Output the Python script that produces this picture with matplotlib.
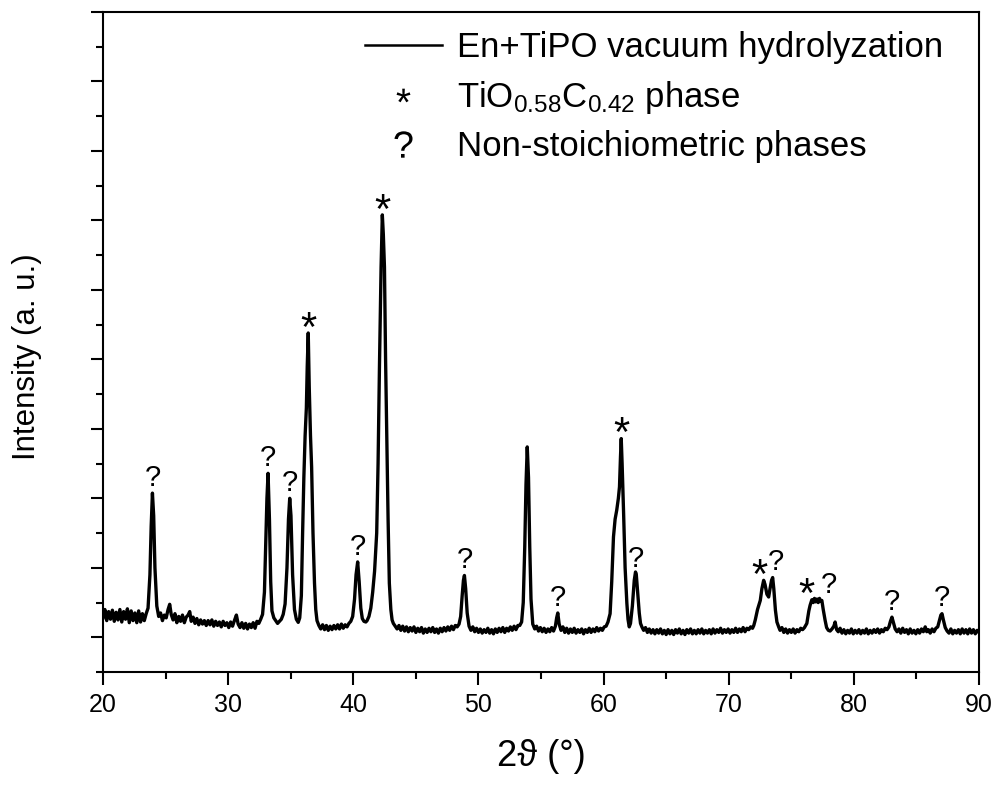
import matplotlib
matplotlib.use("Agg")
import matplotlib.pyplot as plt
from matplotlib.lines import Line2D
from matplotlib.ticker import MultipleLocator
import numpy as np

plt.rcParams['font.family'] = ['Liberation Sans', 'DejaVu Sans']
plt.rcParams['mathtext.fontset'] = 'custom'
plt.rcParams['mathtext.rm'] = 'Liberation Sans'
plt.rcParams['mathtext.it'] = 'Liberation Sans'

# XRD scan, 2theta in degrees, intensity in arbitrary counts (10 values per row)
two_theta = [
    20.0, 20.15, 20.3, 20.45, 20.6, 20.75, 20.9, 21.05, 21.2, 21.35,
    21.5, 21.65, 21.8, 21.95, 22.1, 22.25, 22.4, 22.55, 22.7, 22.85,
    23.0, 23.15, 23.3, 23.45, 23.6, 23.75, 23.85, 23.95, 24.05, 24.15,
    24.3, 24.45, 24.6, 24.75, 24.9, 25.05, 25.2, 25.33, 25.45, 25.6,
    25.75, 25.9, 26.05, 26.2, 26.35, 26.5, 26.65, 26.8, 26.93, 27.05,
    27.2, 27.35, 27.5, 27.65, 27.8, 27.95, 28.1, 28.25, 28.4, 28.55,
    28.7, 28.85, 29.0, 29.15, 29.3, 29.45, 29.6, 29.75, 29.9, 30.05,
    30.2, 30.35, 30.5, 30.66, 30.8, 30.95, 31.1, 31.25, 31.4, 31.55,
    31.7, 31.85, 32.0, 32.15, 32.3, 32.45, 32.6, 32.75, 32.9, 33.0,
    33.1, 33.19, 33.3, 33.4, 33.5, 33.65, 33.8, 33.95, 34.1, 34.25,
    34.4, 34.55, 34.7, 34.82, 34.92, 35.02, 35.15, 35.3, 35.45, 35.6,
    35.72, 35.85, 35.95, 36.05, 36.15, 36.25, 36.32, 36.4, 36.48, 36.58,
    36.67, 36.78, 36.9, 37.0, 37.1, 37.25, 37.4, 37.55, 37.7, 37.85,
    38.0, 38.15, 38.3, 38.45, 38.6, 38.75, 38.9, 39.05, 39.2, 39.35,
    39.5, 39.65, 39.8, 39.95, 40.1, 40.22, 40.35, 40.47, 40.6, 40.72,
    40.85, 41.0, 41.1, 41.25, 41.4, 41.55, 41.7, 41.87, 41.98, 42.09,
    42.22, 42.32, 42.4, 42.49, 42.58, 42.67, 42.78, 42.88, 43.0, 43.1,
    43.2, 43.35, 43.5, 43.65, 43.8, 43.95, 44.1, 44.25, 44.4, 44.55,
    44.7, 44.85, 45.0, 45.15, 45.3, 45.45, 45.6, 45.75, 45.9, 46.05,
    46.2, 46.35, 46.5, 46.65, 46.8, 46.95, 47.1, 47.25, 47.4, 47.55,
    47.7, 47.85, 48.0, 48.15, 48.3, 48.45, 48.58, 48.7, 48.8, 48.88,
    48.98, 49.1, 49.25, 49.4, 49.55, 49.7, 49.85, 50.0, 50.15, 50.3,
    50.45, 50.6, 50.75, 50.9, 51.05, 51.2, 51.35, 51.5, 51.65, 51.8,
    51.95, 52.1, 52.25, 52.4, 52.55, 52.7, 52.85, 53.0, 53.15, 53.3,
    53.45, 53.58, 53.7, 53.8, 53.9, 54.0, 54.1, 54.2, 54.34, 54.5,
    54.65, 54.8, 54.95, 55.1, 55.25, 55.4, 55.55, 55.7, 55.85, 56.0,
    56.15, 56.25, 56.34, 56.45, 56.6, 56.75, 56.9, 57.05, 57.2, 57.35,
    57.5, 57.65, 57.8, 57.95, 58.1, 58.25, 58.4, 58.55, 58.7, 58.85,
    59.0, 59.15, 59.3, 59.45, 59.6, 59.75, 59.9, 60.05, 60.2, 60.35,
    60.52, 60.65, 60.79, 60.92, 61.05, 61.18, 61.27, 61.35, 61.41, 61.48,
    61.6, 61.72, 61.86, 61.95, 62.05, 62.15, 62.3, 62.45, 62.55, 62.61,
    62.7, 62.85, 62.95, 63.06, 63.2, 63.35, 63.5, 63.65, 63.8, 63.95,
    64.1, 64.25, 64.4, 64.55, 64.7, 64.85, 65.0, 65.15, 65.3, 65.45,
    65.6, 65.75, 65.9, 66.05, 66.2, 66.35, 66.5, 66.65, 66.8, 66.95,
    67.1, 67.25, 67.4, 67.55, 67.7, 67.85, 68.0, 68.15, 68.3, 68.45,
    68.6, 68.75, 68.9, 69.05, 69.2, 69.35, 69.5, 69.65, 69.8, 69.95,
    70.1, 70.25, 70.4, 70.55, 70.7, 70.85, 71.0, 71.15, 71.3, 71.45,
    71.6, 71.75, 71.9, 72.0, 72.12, 72.3, 72.52, 72.65, 72.79, 72.9,
    73.05, 73.19, 73.3, 73.42, 73.51, 73.6, 73.73, 73.85, 73.99, 74.1,
    74.25, 74.4, 74.55, 74.7, 74.85, 75.0, 75.15, 75.3, 75.45, 75.6,
    75.75, 75.9, 76.05, 76.24, 76.4, 76.5, 76.64, 76.75, 76.85, 76.95,
    77.05, 77.15, 77.25, 77.35, 77.44, 77.55, 77.7, 77.82, 77.96, 78.1,
    78.25, 78.4, 78.5, 78.62, 78.75, 78.9, 79.05, 79.2, 79.35, 79.5,
    79.65, 79.8, 79.95, 80.1, 80.25, 80.4, 80.55, 80.7, 80.85, 81.0,
    81.15, 81.3, 81.45, 81.6, 81.75, 81.9, 82.05, 82.2, 82.35, 82.5,
    82.65, 82.8, 82.92, 83.04, 83.15, 83.3, 83.45, 83.6, 83.75, 83.9,
    84.05, 84.2, 84.35, 84.5, 84.65, 84.8, 84.95, 85.1, 85.25, 85.4,
    85.55, 85.7, 85.82, 85.95, 86.1, 86.25, 86.4, 86.55, 86.7, 86.85,
    86.95, 87.04, 87.15, 87.3, 87.45, 87.6, 87.75, 87.9, 88.05, 88.2,
    88.35, 88.5, 88.65, 88.8, 88.95, 89.1, 89.25, 89.4, 89.55, 89.7,
    89.85, 90.0,
]
intensity = [
    280, 400, 240, 370, 260, 390, 230, 360, 250, 400,
    220, 370, 260, 410, 210, 380, 240, 350, 210, 380,
    220, 340, 240, 340, 420, 900, 1600, 2075, 1750, 1000,
    450, 300, 350, 240, 320, 280, 400, 475, 330, 250,
    340, 210, 300, 230, 320, 210, 290, 320, 370, 230,
    290, 200, 270, 180, 250, 190, 240, 170, 240, 180,
    250, 160, 230, 170, 220, 150, 230, 170, 210, 140,
    220, 160, 240, 320, 190, 140, 210, 130, 200, 120,
    190, 140, 210, 130, 230, 200, 260, 330, 650, 1300,
    2000, 2360, 1700, 800, 380, 280, 240, 200, 230, 260,
    330, 480, 1000, 1700, 2000, 1750, 900, 400, 260, 215,
    280, 600, 1500, 2300, 2900, 3300, 3900, 4380, 3600, 2900,
    2450, 1500, 780, 400, 240, 170, 120, 180, 110, 170,
    100, 160, 110, 170, 120, 180, 120, 190, 130, 180,
    150, 200, 230, 300, 550, 900, 1085, 800, 420, 270,
    230, 220, 240, 300, 420, 650, 950, 1500, 2500, 3890,
    5330, 6080, 5800, 5330, 4000, 2940, 1700, 780, 400, 250,
    200, 160, 120, 170, 100, 160, 90, 150, 80, 140,
    90, 150, 70, 130, 80, 140, 60, 120, 70, 130,
    80, 140, 70, 120, 60, 130, 80, 140, 90, 150,
    100, 160, 110, 170, 150, 190, 300, 600, 820, 890,
    700, 350, 160, 100, 150, 80, 130, 70, 120, 60,
    110, 70, 130, 60, 110, 50, 120, 70, 130, 80,
    140, 70, 130, 90, 150, 100, 160, 110, 170, 170,
    220, 500, 1300, 2200, 2740, 2300, 1300, 550, 190, 120,
    160, 90, 140, 80, 130, 70, 120, 80, 140, 90,
    160, 280, 350, 190, 100, 150, 70, 130, 60, 120,
    70, 130, 60, 110, 70, 120, 50, 110, 70, 130,
    70, 120, 80, 140, 90, 130, 100, 150, 160, 220,
    340, 800, 1445, 1700, 1830, 2000, 2165, 2600, 2860, 2500,
    1780, 1000, 490, 260, 150, 200, 450, 820, 940, 910,
    700, 350, 200, 150, 100, 140, 70, 120, 60, 110,
    50, 110, 60, 120, 50, 100, 40, 110, 50, 100,
    40, 110, 60, 120, 50, 100, 40, 110, 60, 120,
    50, 100, 50, 110, 60, 120, 50, 100, 60, 110,
    50, 120, 60, 110, 70, 130, 60, 110, 70, 120,
    60, 110, 70, 130, 70, 120, 80, 140, 80, 130,
    110, 150, 130, 170, 250, 400, 530, 700, 820, 760,
    620, 580, 700, 820, 860, 700, 390, 220, 150, 100,
    140, 70, 120, 60, 110, 70, 120, 60, 110, 80,
    130, 110, 140, 200, 380, 460, 540, 500, 560, 510,
    550, 500, 560, 520, 530, 400, 245, 140, 100, 90,
    120, 160, 220, 110, 80, 130, 60, 110, 50, 100,
    60, 120, 50, 100, 60, 110, 50, 100, 60, 120,
    50, 100, 60, 110, 70, 120, 60, 110, 80, 130,
    110, 150, 230, 290, 220, 120, 80, 120, 60, 130,
    70, 110, 50, 120, 60, 100, 50, 110, 60, 120,
    80, 150, 80, 110, 60, 120, 80, 130, 150, 250,
    320, 340, 250, 140, 90, 60, 120, 50, 100, 60,
    110, 50, 120, 60, 110, 50, 120, 60, 110, 50,
    100, 70,
]

# peak assignments: peak position, symbol, horizontal nudge of the symbol (points)
peak_pos = [23.95, 33.19, 34.92, 36.4, 40.35, 42.32, 48.88, 56.34,
            61.41, 62.61, 72.79, 73.51, 76.64, 77.44, 83.04, 87.04]
peak_sym = ['?', '?', '?', '*', '?', '*', '?', '?',
            '*', '?', '*', '?', '*', '?', '?', '?']
peak_dx = [0, 0, 0, 0, 0, 0, 0, 0,
           0, 0, -3, 2, -4, 5, 0, 0]

legend_labels = ['En+TiPO vacuum hydrolyzation',
                 r'TiO$_{0.58}$C$_{0.42}$ phase',
                 'Non-stoichiometric phases']

fig = plt.figure(figsize=(9.98, 7.86), dpi=100)
ax = fig.add_axes([0.1032, 0.145, 0.8778, 0.8397])

ax.plot(two_theta, intensity, color='black', lw=2.4)

for x, s, dx in zip(peak_pos, peak_sym, peak_dx):
    y = np.interp(x, two_theta, intensity)
    if s == '?':
        ax.annotate(s, xy=(x, y), xytext=(dx, 1), textcoords='offset points',
                    ha='center', va='bottom', fontsize=21)
    else:
        ax.annotate(s, xy=(x, y), xytext=(dx, -12), textcoords='offset points',
                    ha='center', va='bottom', fontsize=30)

ax.set_xlim(20, 90)
ax.set_ylim(-500, 9000)
ax.xaxis.set_major_locator(MultipleLocator(10))
ax.xaxis.set_minor_locator(MultipleLocator(5))
ax.yaxis.set_major_locator(MultipleLocator(1000))
ax.yaxis.set_minor_locator(MultipleLocator(500))
ax.tick_params(which='both', direction='out', width=1.5, top=False, right=False)
ax.tick_params(which='major', length=9)
ax.tick_params(which='minor', length=5)
ax.tick_params(axis='x', labelsize=18, pad=6)
ax.tick_params(axis='y', labelleft=False)
for sp in ax.spines.values():
    sp.set_linewidth(1.5)

ax.set_xlabel('2ϑ (°)', fontsize=26, labelpad=16)
ax.set_ylabel('Intensity (a. u.)', fontsize=22.5)
ax.yaxis.set_label_coords(-0.07, 0.478)

handles = [Line2D([], [], color='black', lw=1.8),
           Line2D([], [], ls='none', marker='$*$', color='black',
                  markersize=10, markeredgewidth=0),
           Line2D([], [], ls='none', marker='$?$', color='black',
                  markersize=19, markeredgewidth=0)]
ax.legend(handles, legend_labels, loc='upper right', frameon=False, fontsize=25,
          handlelength=2.2, handletextpad=0.45, labelspacing=0.42,
          borderaxespad=0.15, bbox_to_anchor=(0.981, 1.0))

fig.savefig('out.png', dpi=100)
